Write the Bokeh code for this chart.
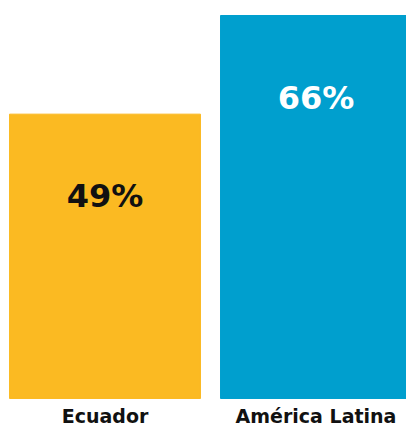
import numpy as np
from bokeh.plotting import figure
from bokeh.models import ColumnDataSource, Range1d
from bokeh.core.properties import value
from bokeh.embed import file_html
from bokeh.resources import INLINE

# data
categories = ["Ecuador", "América Latina"]
values = [49, 66]
value_labels = ["49%", "66%"]

# styles
bar_colors = ["#FBBA22", "#009FCE"]
label_colors = ["#111111", "#FFFFFF"]
FONT = "DejaVu Sans"

xpos = np.arange(len(categories)) + 0.5
src = ColumnDataSource(dict(x=xpos, top=values, zero=[0] * len(values),
                            label=value_labels, cat=categories,
                            color=bar_colors, lcolor=label_colors))

p = figure(width=406, height=428, output_backend="svg", toolbar_location=None,
           x_range=Range1d(0.0047, 1.9289), y_range=Range1d(-5.17, 68.585),
           min_border=0)

p.vbar(x="x", top="top", bottom=0, width=0.905, color="color", source=src)
# value labels inside the bars
p.text(x="x", y="top", text="label", source=src, text_color="lcolor",
       text_align="center", text_baseline="alphabetic", y_offset=82,
       text_font=value(FONT), text_font_style="bold", text_font_size="32px")
# category labels under the bars
p.text(x="x", y="zero", text="cat", source=src, text_color="#111111",
       text_align="center", text_baseline="alphabetic", y_offset=18,
       text_font=value(FONT), text_font_style="bold", text_font_size="19px")

p.axis.visible = False
p.grid.visible = False
p.outline_line_color = None

open("out.html", "w").write(file_html(p, INLINE))
